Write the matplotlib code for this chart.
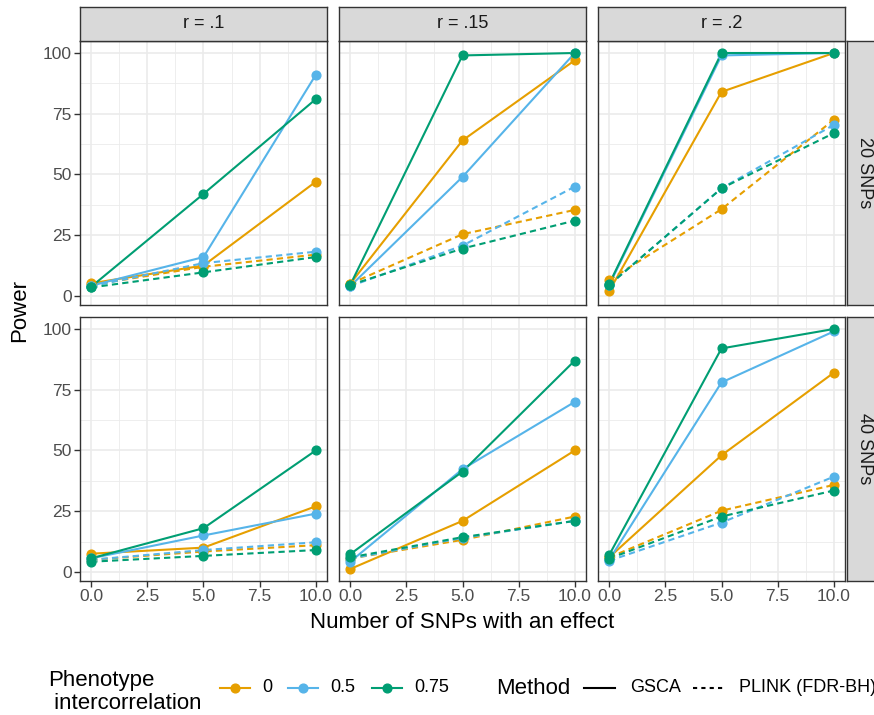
import numpy as np
import matplotlib.pyplot as plt
from matplotlib.lines import Line2D

plt.rcParams['font.family'] = ['Liberation Sans', 'DejaVu Sans']

# x values: number of SNPs with an effect
n_effect = [0, 5, 10]

# phenotype intercorrelation levels and colours
corr_levels = ['0', '0.5', '0.75']
corr_colors = ['#E69F00', '#56B4E9', '#009E73']

# facet labels
r_labels = ['r = .1', 'r = .15', 'r = .2']
snp_labels = ['20 SNPs', '40 SNPs']

# power values, one row per intercorrelation level (0, 0.5, 0.75)
gsca_20_r1 = [[5.2, 12.5, 47], [4.2, 16, 91], [3.8, 42, 81]]
gsca_20_r2 = [[5, 64, 97], [4, 49, 100], [4.5, 99, 100]]
gsca_20_r3 = [[2, 84, 100], [4.5, 99, 100], [5, 100, 100]]
gsca_40_r1 = [[7.5, 10, 27], [5.6, 15, 24], [5.6, 18, 50]]
gsca_40_r2 = [[1.2, 21, 50], [4.2, 42.3, 70], [7.3, 41.3, 87]]
gsca_40_r3 = [[6, 48, 82], [5, 78, 99], [7, 92, 100]]

plink_20_r1 = [[4.5, 12, 17], [4, 13.5, 18.2], [3.5, 9.7, 16]]
plink_20_r2 = [[5, 25.4, 35.4], [4, 20.7, 45], [4.5, 19.5, 31]]
plink_20_r3 = [[6.5, 35.7, 72.5], [4.5, 44.3, 70.4], [4.5, 44.3, 67]]
plink_40_r1 = [[5, 8.4, 11], [5, 9, 12.2], [4.2, 6.6, 9]]
plink_40_r2 = [[5.5, 13.2, 22.8], [5.5, 14, 21], [6, 14.3, 21]]
plink_40_r3 = [[6, 25.2, 35.8], [4.6, 20.3, 39.2], [5.5, 22.8, 33.5]]

gsca = [[gsca_20_r1, gsca_20_r2, gsca_20_r3], [gsca_40_r1, gsca_40_r2, gsca_40_r3]]
plink = [[plink_20_r1, plink_20_r2, plink_20_r3], [plink_40_r1, plink_40_r2, plink_40_r3]]

xticks = [0, 2.5, 5, 7.5, 10]
xtick_labels = ['0.0', '2.5', '5.0', '7.5', '10.0']
yticks = [0, 25, 50, 75, 100]

W, H = 874, 715
fig = plt.figure(figsize=(W / 100, H / 100), dpi=100)


def rect(x0, y0, x1, y1):
    return [x0 / W, 1 - y1 / H, (x1 - x0) / W, (y1 - y0) / H]


cols = [(80, 327), (339, 586), (598, 845)]
rows = [(41, 305), (317, 581)]

# ggplot-like expansion of the shared scales
allv = np.array([gsca, plink]).ravel()
ylo, yhi = allv.min(), allv.max()
ypad = 0.05 * (yhi - ylo)
xpad = 0.05 * (max(n_effect) - min(n_effect))

border = '#333333'
dash = (0, (3, 2))

for i, (y0, y1) in enumerate(rows):
    for j, (x0, x1) in enumerate(cols):
        ax = fig.add_axes(rect(x0, y0, x1, y1))
        ax.set_xlim(min(n_effect) - xpad, max(n_effect) + xpad)
        ax.set_ylim(ylo - ypad, yhi + ypad)
        ax.set_xticks(xticks)
        ax.set_xticks([1.25, 3.75, 6.25, 8.75], minor=True)
        ax.set_yticks(yticks)
        ax.set_yticks([12.5, 37.5, 62.5, 87.5], minor=True)
        ax.set_xticklabels(xtick_labels)
        ax.grid(which='major', color='#EBEBEB', lw=1.2)
        ax.grid(which='minor', color='#EBEBEB', lw=0.6)
        ax.set_axisbelow(True)
        for s in ax.spines.values():
            s.set_color(border)
            s.set_linewidth(1.0)
        ax.tick_params(which='minor', length=0)
        ax.tick_params(which='major', length=4, width=1.0, color=border,
                       labelcolor='#4D4D4D', labelsize=12.5, pad=2,
                       bottom=(i == 1), labelbottom=(i == 1),
                       left=(j == 0), labelleft=(j == 0))

        for k, c in enumerate(corr_colors):
            ax.plot(n_effect, gsca[i][j][k], color=c, lw=1.5, zorder=2)
            ax.plot(n_effect, plink[i][j][k], color=c, lw=1.5, ls=dash, zorder=2)
        for k, c in enumerate(corr_colors):
            ax.plot(n_effect, gsca[i][j][k], 'o', color=c, ms=6.3, zorder=3)
            ax.plot(n_effect, plink[i][j][k], 'o', color=c, ms=6.3, zorder=3)

        # top strips
        if i == 0:
            sx = fig.add_axes(rect(x0, 7, x1, 41))
            sx.set_facecolor('#D9D9D9')
            sx.set_xticks([])
            sx.set_yticks([])
            for s in sx.spines.values():
                s.set_color(border)
                s.set_linewidth(1.0)
            sx.text(0.5, 0.5, r_labels[j], ha='center', va='center',
                    fontsize=13, color='#1A1A1A', transform=sx.transAxes)
    # right strips
    sy = fig.add_axes(rect(847, y0, 881, y1))
    sy.set_facecolor('#D9D9D9')
    sy.set_xticks([])
    sy.set_yticks([])
    for s in sy.spines.values():
        s.set_color(border)
        s.set_linewidth(1.0)
    sy.text(0.5, 0.5, snp_labels[i], ha='center', va='center', rotation=-90,
            fontsize=13, color='#1A1A1A', transform=sy.transAxes)

fig.text(462.5 / W, 1 - 622 / H, 'Number of SNPs with an effect',
         ha='center', va='center', fontsize=16)
fig.text(20 / W, 1 - 311 / H, 'Power', ha='center', va='center',
         rotation=90, fontsize=16)

# legends
ly = 1 - 688 / H
fig.text(48 / W, 1 - 692 / H, 'Phenotype\n intercorrelation', ha='left',
         va='center', fontsize=16, linespacing=1.12)
key_x = [220, 288, 372]
for kx, c, lab in zip(key_x, corr_colors, corr_levels):
    fig.add_artist(Line2D([kx / W, (kx + 30) / W], [ly, ly], color=c, lw=1.5))
    fig.add_artist(Line2D([(kx + 15) / W], [ly], marker='o', color=c, ms=6.3))
    fig.text((kx + 42) / W, ly, lab, ha='left', va='center', fontsize=13)

fig.text(496 / W, ly, 'Method', ha='left', va='center', fontsize=16)
fig.add_artist(Line2D([584 / W, 615 / W], [ly, ly], color='black', lw=1.5))
fig.text(630 / W, ly, 'GSCA', ha='left', va='center', fontsize=13)
fig.add_artist(Line2D([693 / W, 724 / W], [ly, ly], color='black', lw=1.5,
                      ls=(0, (2, 2))))
fig.text(739 / W, ly, 'PLINK (FDR-BH)', ha='left', va='center', fontsize=13)

fig.savefig('out.png', dpi=100)
